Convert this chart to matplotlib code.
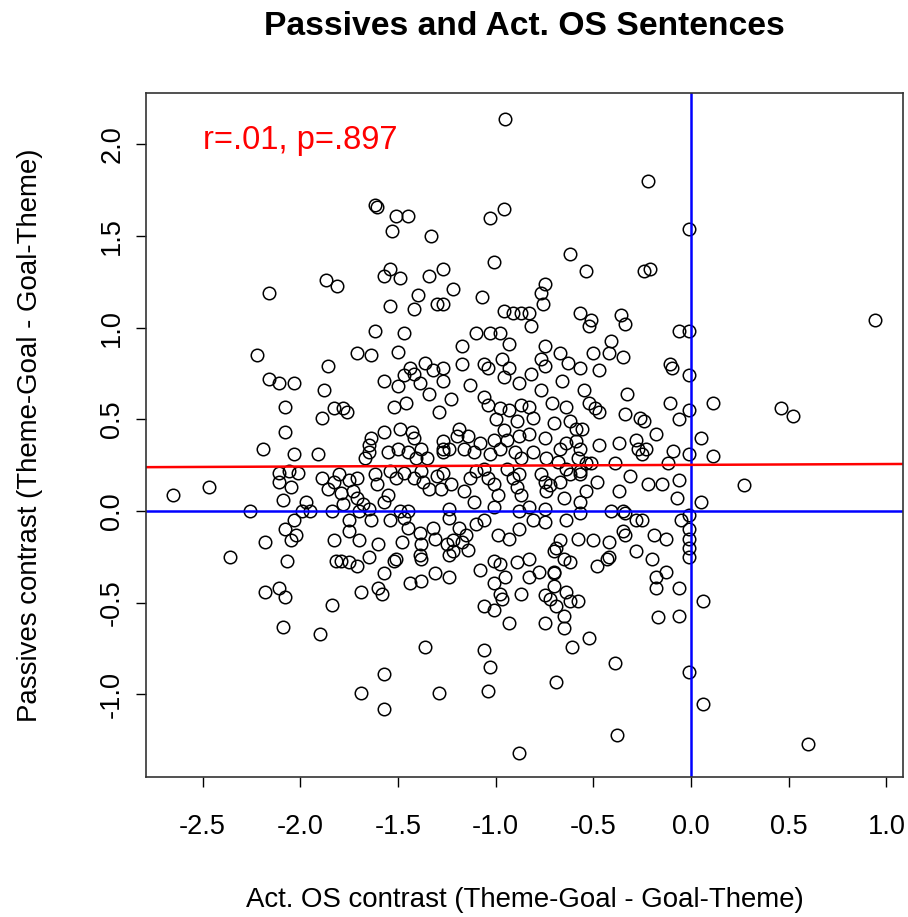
import matplotlib

matplotlib.use("Agg")

import matplotlib.pyplot as plt
import numpy as np

# Pontos: (contraste Act. OS, contraste Passives)
points = [
    # parte de cima
    (-0.95, 2.14), (-0.22, 1.80), (-0.01, 1.54), (-1.62, 1.67), (-1.61, 1.66), (-1.51, 1.61), (-1.45, 1.61),
    (-1.53, 1.53), (-1.33, 1.50), (-0.96, 1.65), (-1.03, 1.60), (-1.01, 1.36), (-2.16, 1.19), (-1.87, 1.26),
    (-1.81, 1.23), (-1.54, 1.32), (-1.57, 1.28), (-1.49, 1.27), (-1.34, 1.28), (-1.27, 1.32), (-1.22, 1.21),
    (-1.40, 1.18), (-1.54, 1.12), (-1.42, 1.10), (-1.30, 1.13), (-1.27, 1.13), (-1.07, 1.17), (-0.96, 1.09),
    (-0.91, 1.08), (-0.87, 1.08), (-0.62, 1.40), (-0.54, 1.31), (-0.24, 1.31), (-0.21, 1.32), (-0.75, 1.24),
    (-0.77, 1.19), (-0.76, 1.13), (-0.57, 1.08), (-0.36, 1.07), (-0.83, 1.08), (-0.51, 1.04), (0.94, 1.04),
    # lado esquerdo
    (-2.22, 0.85), (-1.86, 0.79), (-2.16, 0.72), (-2.11, 0.70), (-2.03, 0.70), (-1.88, 0.66), (-2.08, 0.57),
    (-1.83, 0.56), (-1.89, 0.51), (-2.08, 0.43), (-2.19, 0.34), (-2.03, 0.31), (-1.91, 0.31), (-2.11, 0.21),
    (-2.11, 0.16), (-2.06, 0.22), (-2.01, 0.21), (-2.05, 0.13), (-2.09, 0.06), (-1.97, 0.05), (-1.99, 0.00),
    (-1.95, 0.00), (-1.89, 0.18), (-1.86, 0.12), (-1.83, 0.16), (-1.84, 0.00), (-2.26, 0.00), (-2.47, 0.13),
    (-2.65, 0.09), (-2.03, -0.05), (-2.08, -0.10), (-2.02, -0.13), (-2.05, -0.16), (-2.18, -0.17), (-1.83, -0.16),
    (-2.36, -0.25), (-2.07, -0.27), (-1.82, -0.27), (-2.18, -0.44), (-2.11, -0.42), (-2.08, -0.47), (-1.84, -0.51),
    (-2.09, -0.63), (-1.90, -0.67),
    # centro esquerdo
    (-1.62, 0.98), (-1.47, 0.97), (-1.10, 0.97), (-1.03, 0.97), (-0.98, 0.97), (-0.93, 0.91), (-1.71, 0.86),
    (-1.64, 0.85), (-1.50, 0.87), (-1.17, 0.90), (-1.36, 0.81), (-1.44, 0.78), (-1.57, 0.71), (-1.50, 0.68),
    (-1.47, 0.74), (-1.42, 0.75), (-1.39, 0.70), (-1.32, 0.77), (-1.27, 0.78), (-1.27, 0.71), (-1.34, 0.64),
    (-1.17, 0.80), (-1.13, 0.69), (-1.06, 0.80), (-1.04, 0.78), (-0.97, 0.83), (-0.96, 0.73), (-0.93, 0.78),
    (-0.88, 0.70), (-1.23, 0.61), (-1.52, 0.57), (-1.46, 0.59), (-1.29, 0.54), (-1.78, 0.56), (-1.76, 0.54),
    (-1.06, 0.62), (-1.04, 0.58), (-0.98, 0.56), (-0.93, 0.55), (-1.00, 0.50), (-0.96, 0.44), (-0.89, 0.49),
    (-0.87, 0.58), (-1.57, 0.43), (-1.64, 0.40), (-1.49, 0.45), (-1.43, 0.43), (-1.42, 0.40), (-1.65, 0.36),
    (-1.65, 0.32), (-1.67, 0.29), (-1.55, 0.32), (-1.50, 0.34), (-1.45, 0.32), (-1.38, 0.34), (-1.41, 0.29),
    (-1.35, 0.29), (-1.27, 0.38), (-1.27, 0.34), (-1.27, 0.32), (-1.24, 0.34), (-1.19, 0.45), (-1.20, 0.41),
    (-1.14, 0.41), (-1.16, 0.34), (-1.11, 0.32), (-1.08, 0.37), (-1.01, 0.39), (-0.98, 0.34), (-0.94, 0.39),
    (-0.88, 0.41), (-1.03, 0.31), (-0.90, 0.32), (-0.87, 0.29),
    (-1.80, 0.20), (-1.75, 0.17), (-1.71, 0.18), (-1.73, 0.11), (-1.79, 0.10), (-1.62, 0.20), (-1.61, 0.15),
    (-1.54, 0.22), (-1.51, 0.18), (-1.47, 0.21), (-1.42, 0.18), (-1.38, 0.22), (-1.37, 0.16), (-1.34, 0.12),
    (-1.30, 0.19), (-1.27, 0.21), (-1.28, 0.12), (-1.23, 0.15), (-1.16, 0.11), (-1.13, 0.18), (-1.10, 0.22),
    (-1.06, 0.23), (-1.04, 0.18), (-1.01, 0.15), (-0.99, 0.09), (-0.94, 0.23), (-0.91, 0.18), (-0.89, 0.13),
    (-0.87, 0.09), (-0.88, 0.20), (-1.78, 0.04), (-1.71, 0.07), (-1.68, 0.04), (-1.57, 0.05), (-1.55, 0.09),
    (-1.49, 0.00), (-1.45, 0.00), (-1.24, 0.01), (-1.11, 0.05), (-1.01, 0.02), (-0.88, 0.00), (-1.70, 0.00),
    (-1.65, 0.01),
    (-1.75, -0.05), (-1.75, -0.11), (-1.64, -0.05), (-1.54, -0.05), (-1.47, -0.04), (-1.45, -0.09), (-1.39, -0.12),
    (-1.32, -0.09), (-1.31, -0.15), (-1.24, -0.04), (-1.22, -0.16), (-1.19, -0.09), (-1.15, -0.13), (-1.10, -0.07),
    (-1.06, -0.05), (-0.99, -0.13), (-0.93, -0.15), (-0.88, -0.10), (-1.70, -0.16), (-1.60, -0.18), (-1.48, -0.17),
    (-1.38, -0.18), (-1.25, -0.18), (-1.17, -0.17),
    # centro direito
    (-0.82, 1.01), (-0.52, 1.01), (-0.34, 1.02), (-0.06, 0.98), (-0.01, 0.98), (-0.75, 0.90), (-0.67, 0.86),
    (-0.63, 0.81), (-0.77, 0.83), (-0.75, 0.79), (-0.82, 0.75), (-0.57, 0.78), (-0.50, 0.86), (-0.47, 0.77),
    (-0.41, 0.93), (-0.42, 0.86), (-0.35, 0.84), (-0.66, 0.71), (-0.77, 0.66), (-0.55, 0.66), (-0.52, 0.59),
    (-0.49, 0.56), (-0.47, 0.54), (-0.71, 0.59), (-0.64, 0.57), (-0.83, 0.57), (-0.81, 0.51), (-0.70, 0.48),
    (-0.62, 0.49), (-0.59, 0.45), (-0.56, 0.45), (-0.34, 0.53), (-0.33, 0.64), (-0.26, 0.51), (-0.24, 0.49),
    (-0.18, 0.42), (-0.11, 0.80), (-0.10, 0.78), (-0.11, 0.59), (-0.06, 0.50), (-0.01, 0.74), (-0.01, 0.55),
    (0.11, 0.59), (0.05, 0.40), (-0.83, 0.42), (-0.75, 0.40), (-0.67, 0.34), (-0.64, 0.37), (-0.59, 0.38),
    (-0.57, 0.34), (-0.47, 0.36), (-0.37, 0.37), (-0.28, 0.39), (-0.27, 0.34), (-0.23, 0.34), (-0.25, 0.31),
    (-0.09, 0.33), (-0.01, 0.31), (0.11, 0.30), (-0.81, 0.32), (-0.74, 0.29), (-0.68, 0.27), (-0.58, 0.29),
    (-0.54, 0.26), (-0.39, 0.26), (-0.12, 0.26), (-0.64, 0.23), (-0.57, 0.22), (-0.51, 0.26), (-0.77, 0.20),
    (-0.75, 0.16), (-0.72, 0.14), (-0.67, 0.16), (-0.62, 0.20), (-0.57, 0.20), (-0.48, 0.16), (-0.31, 0.19),
    (-0.22, 0.15), (-0.15, 0.15), (-0.06, 0.17), (-0.74, 0.11), (-0.65, 0.07), (-0.54, 0.11), (-0.57, 0.05),
    (-0.37, 0.11), (-0.07, 0.07), (0.05, 0.05), (-0.83, 0.02), (-0.75, 0.01), (-0.57, -0.01), (-0.41, 0.00),
    (-0.35, 0.00), (-0.34, -0.01), (-0.28, -0.05), (-0.25, -0.05), (-0.64, -0.05), (-0.81, -0.05), (-0.75, -0.06),
    (-0.05, -0.05), (-0.01, -0.02), (-0.35, -0.11), (-0.34, -0.13), (-0.19, -0.13), (-0.13, -0.15), (-0.01, -0.15),
    (-0.58, -0.15), (-0.50, -0.16), (-0.67, -0.16), (-0.42, -0.17), (-0.69, -0.20), (-0.01, -0.10), (-0.01, -0.20),
    # lado direito
    (0.46, 0.56), (0.52, 0.52), (0.27, 0.14),
    # parte de baixo
    (-1.79, -0.27), (-1.75, -0.28), (-1.71, -0.30), (-1.65, -0.25), (-1.52, -0.27), (-1.51, -0.26), (-1.39, -0.24),
    (-1.38, -0.26), (-1.24, -0.24), (-1.22, -0.22), (-1.14, -0.21), (-1.57, -0.34), (-1.60, -0.42), (-1.58, -0.45),
    (-1.69, -0.44), (-1.44, -0.39), (-1.38, -0.38), (-1.31, -0.34), (-1.24, -0.36), (-1.08, -0.32), (-1.01, -0.27),
    (-0.98, -0.29), (-0.95, -0.36), (-0.89, -0.28), (-1.01, -0.39), (-0.98, -0.45), (-0.97, -0.48), (-1.06, -0.52),
    (-1.01, -0.54), (-0.87, -0.45), (-0.93, -0.61), (-1.36, -0.74), (-1.06, -0.76), (-1.03, -0.85), (-1.04, -0.98),
    (-1.57, -0.89), (-1.69, -0.99), (-1.57, -1.08), (-1.29, -0.99), (-0.88, -1.32),
    (-0.83, -0.26), (-0.70, -0.22), (-0.65, -0.26), (-0.62, -0.28), (-0.43, -0.26), (-0.42, -0.25), (-0.48, -0.30),
    (-0.28, -0.22), (-0.20, -0.26), (-0.01, -0.25), (-0.78, -0.33), (-0.70, -0.33), (-0.83, -0.36), (-0.70, -0.34),
    (-0.18, -0.36), (-0.13, -0.33), (-0.18, -0.42), (-0.06, -0.42), (-0.75, -0.46), (-0.72, -0.48), (-0.69, -0.52),
    (-0.64, -0.44), (-0.62, -0.49), (-0.58, -0.49), (-0.70, -0.41), (-0.65, -0.57), (-0.75, -0.61), (-0.65, -0.64),
    (-0.17, -0.58), (-0.06, -0.57), (0.06, -0.49), (-0.52, -0.69), (-0.61, -0.74), (-0.39, -0.83), (-0.01, -0.88),
    (-0.69, -0.93), (0.06, -1.05), (-0.38, -1.22), (0.60, -1.27),
]
act_os = [p[0] for p in points]
passives = [p[1] for p in points]

# Reta de regressao
fit_intercept = 0.252
fit_slope = 0.0045
stat_label = "r=.01, p=.897"

x_ticks = [-2.5, -2.0, -1.5, -1.0, -0.5, 0.0, 0.5, 1.0]
y_ticks = [-1.0, -0.5, 0.0, 0.5, 1.0, 1.5, 2.0]

plt.rcParams["font.family"] = ["Liberation Sans", "DejaVu Sans"]
plt.rcParams["axes.unicode_minus"] = False

fig = plt.figure(figsize=(9.08, 9.17), dpi=100)
ax = fig.add_axes([0.1608, 0.1527, 0.8337, 0.7459])

# Pontos como circulos vazios, estilo R
ax.plot(act_os, passives, "o", mfc="none", mec="black", ms=9.0, mew=1.1, linestyle="none")

# Linhas de referencia e regressao
ax.axvline(0, color="#0000ff", lw=1.8)
ax.axhline(0, color="#0000ff", lw=1.8)
ax.axline((0, fit_intercept), slope=fit_slope, color="#ff0000", lw=1.8)

ax.text(-2.0, 2.02, stat_label, color="#ff0000", fontsize=23.5, ha="center", va="center")

ax.set_xlim(-2.79, 1.085)
ax.set_ylim(-1.45, 2.28)
ax.set_xticks(x_ticks)
ax.set_xticklabels([f"{t:.1f}" for t in x_ticks])
ax.set_yticks(y_ticks)
ax.set_yticklabels([f"{t:.1f}" for t in y_ticks], rotation=90, va="center")
ax.tick_params(axis="both", direction="out", length=7, width=1, labelsize=19.5, colors="black")
ax.tick_params(axis="x", pad=20)
ax.tick_params(axis="y", pad=8)
for spine in ax.spines.values():
    spine.set_color("#333333")
    spine.set_linewidth(1.2)

ax.set_xlabel("Act. OS contrast (Theme-Goal - Goal-Theme)", fontsize=19.9, va="center")
ax.xaxis.set_label_coords(0.5, -0.18)
ax.set_ylabel("Passives contrast (Theme-Goal - Goal-Theme)", fontsize=19.9, va="center")
ax.yaxis.set_label_coords(-0.153, 0.5)

ax.text(0.5, 1.0965, "Passives and Act. OS Sentences", transform=ax.transAxes,
        fontsize=24.2, fontweight="bold", ha="center", va="center")

fig.savefig("out.png", dpi=100)
plt.close(fig)
